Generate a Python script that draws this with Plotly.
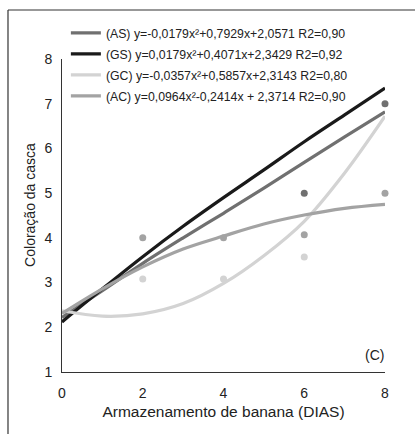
import plotly.graph_objects as go

# ---- data ----
curve_days = [0, 1, 2, 3, 4, 5, 6, 7, 8]
as_curve = [2.22, 2.82, 3.43, 4.0, 4.55, 5.11, 5.69, 6.26, 6.82]   # dark gray
gs_curve = [2.12, 2.86, 3.58, 4.26, 4.9, 5.52, 6.15, 6.75, 7.35]   # black
gc_curve = [2.37, 2.25, 2.3, 2.53, 2.98, 3.6, 4.37, 5.45, 6.72]    # light gray
ac_curve = [2.31, 2.86, 3.35, 3.75, 4.04, 4.31, 4.51, 4.66, 4.75]  # mid gray

as_obs_days = [6, 8]
as_obs = [5.0, 7.0]
ac_obs_days = [2, 4, 6, 8]
ac_obs = [4.0, 4.0, 4.07, 5.0]
gc_obs_days = [2, 4, 6]
gc_obs = [3.08, 3.08, 3.57]

names = [
    "(AS) y=-0,0179x²+0,7929x+2,0571 R2=0,90",
    "(GS) y=0,0179x²+0,4071x+2,3429 R2=0,92",
    "(GC) y=-0,0357x²+0,5857x+2,3143 R2=0,80",
    "(AC) y=0,0964x²-0,2414x + 2,3714 R2=0,90",
]
x_ticks = [0, 2, 4, 6, 8]
y_ticks = [1, 2, 3, 4, 5, 6, 7, 8]

c_dark = "#707070"
c_black = "#1a1a1a"
c_light = "#d3d3d3"
c_mid = "#a3a3a3"

fig = go.Figure()

for xs, ys, col in [(as_obs_days, as_obs, c_dark), (ac_obs_days, ac_obs, c_mid), (gc_obs_days, gc_obs, c_light)]:
    fig.add_trace(go.Scatter(x=xs, y=ys, mode="markers", showlegend=False,
                             marker=dict(color=col, size=7), cliponaxis=False))

for i, (nm, ys, col) in enumerate([(names[0], as_curve, c_dark), (names[1], gs_curve, c_black),
                                   (names[2], gc_curve, c_light), (names[3], ac_curve, c_mid)]):
    fig.add_trace(go.Scatter(x=curve_days, y=ys, mode="lines", name=nm, legendgroup=f"g{i}",
                             line=dict(color=col, width=3.2, shape="spline", smoothing=1),
                             cliponaxis=False))

font = dict(family="Liberation Sans, Arial, sans-serif", color="#222222")

fig.update_layout(
    width=415, height=434,
    margin=dict(l=62, r=30, t=59, b=62),
    paper_bgcolor="white", plot_bgcolor="white",
    font=dict(size=14, **font),
    legend=dict(x=0.012, y=1.13, xanchor="left", yanchor="top",
                bgcolor="rgba(0,0,0,0)", font=dict(size=12.3, **font),
                tracegroupgap=2, itemwidth=30),
    xaxis=dict(range=[0, 8], tickvals=x_ticks, showgrid=False, zeroline=False,
               showline=True, linecolor="#333333", linewidth=1, ticks="",
               ticklabelstandoff=8,
               title=dict(text="Armazenamento de banana (DIAS)", standoff=6,
                          font=dict(size=15.5, **font))),
    yaxis=dict(range=[1, 8], tickvals=y_ticks, showgrid=False, zeroline=False,
               showline=True, linecolor="#333333", linewidth=1, ticks="",
               ticklabelstandoff=6),
    shapes=[
        dict(type="line", xref="paper", yref="paper", x0=-0.1672, x1=-0.1672,
             y0=1.1565, y1=-0.25, line=dict(color="#333333", width=1.2)),
        dict(type="line", xref="paper", yref="paper", x0=-0.1672, x1=1.2,
             y0=1.1565, y1=1.1565, line=dict(color="#333333", width=1.2)),
    ],
    annotations=[
        dict(text="(C)", xref="paper", yref="paper", x=0.969, y=0.054,
             xanchor="center", yanchor="middle",
             showarrow=False, font=dict(size=14, **font)),
        dict(text="Coloração da casca", xref="paper", yref="paper", x=-0.099, y=0.534,
             xanchor="center", yanchor="middle", textangle=-90,
             showarrow=False, font=dict(size=14, **font)),
    ],
)

fig.write_html("out.html")
